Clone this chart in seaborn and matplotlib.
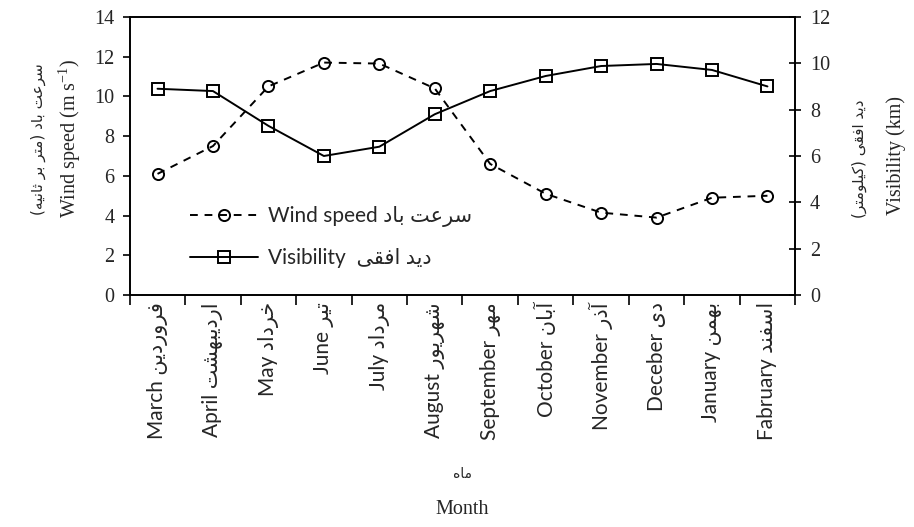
import numpy as np
import pandas as pd
import seaborn as sns
import matplotlib.pyplot as plt
from matplotlib.ticker import FixedLocator, NullFormatter

months_en = ['March', 'April', 'May', 'June', 'July', 'August', 'September',
             'October', 'November', 'Deceber', 'January', 'Fabruary']
months_fa = ['فروردین', 'اردیبهشت', 'خرداد', 'تیر', 'مرداد', 'شهریور', 'مهر',
             'آبان', 'آذر', 'دی', 'بهمن', 'اسفند']
wind_speed = [6.1, 7.5, 10.5, 11.7, 11.65, 10.4, 6.6, 5.1, 4.15, 3.9, 4.9, 5.0]
visibility = [8.9, 8.8, 7.3, 6.0, 6.4, 7.8, 8.8, 9.45, 9.88, 9.97, 9.71, 9.0]

# presentation forms: isolated, final, initial, medial
FORMS = {
    'ا': ('\uFE8D', '\uFE8E', None, None),
    'آ': ('\uFE81', '\uFE82', None, None),
    'ب': ('\uFE8F', '\uFE90', '\uFE91', '\uFE92'),
    'ت': ('\uFE95', '\uFE96', '\uFE97', '\uFE98'),
    'ث': ('\uFE99', '\uFE9A', '\uFE9B', '\uFE9C'),
    'خ': ('\uFEA5', '\uFEA6', '\uFEA7', '\uFEA8'),
    'د': ('\uFEA9', '\uFEAA', None, None),
    'ذ': ('\uFEAB', '\uFEAC', None, None),
    'ر': ('\uFEAD', '\uFEAE', None, None),
    'س': ('\uFEB1', '\uFEB2', '\uFEB3', '\uFEB4'),
    'ش': ('\uFEB5', '\uFEB6', '\uFEB7', '\uFEB8'),
    'ع': ('\uFEC9', '\uFECA', '\uFECB', '\uFECC'),
    'ف': ('\uFED1', '\uFED2', '\uFED3', '\uFED4'),
    'ق': ('\uFED5', '\uFED6', '\uFED7', '\uFED8'),
    'ك': ('\uFED9', '\uFEDA', '\uFEDB', '\uFEDC'),
    'ک': ('\uFB8E', '\uFB8F', '\uFB90', '\uFB91'),
    'ل': ('\uFEDD', '\uFEDE', '\uFEDF', '\uFEE0'),
    'م': ('\uFEE1', '\uFEE2', '\uFEE3', '\uFEE4'),
    'ن': ('\uFEE5', '\uFEE6', '\uFEE7', '\uFEE8'),
    'ه': ('\uFEE9', '\uFEEA', '\uFEEB', '\uFEEC'),
    'و': ('\uFEED', '\uFEEE', None, None),
    'ي': ('\uFEF1', '\uFEF2', '\uFEF3', '\uFEF4'),
    'ی': ('\uFBFC', '\uFBFD', '\uFBFE', '\uFBFF'),
}
MIRROR = {'(': ')', ')': '('}


def fa(text):
    # tiny reshaper: pick joined forms, then reverse to visual order
    out = []
    for i, ch in enumerate(text):
        if ch not in FORMS:
            out.append(MIRROR.get(ch, ch))
            continue
        prev = text[i - 1] if i > 0 else ''
        nxt = text[i + 1] if i + 1 < len(text) else ''
        join_prev = prev in FORMS and FORMS[prev][2] is not None
        join_next = FORMS[ch][2] is not None and nxt in FORMS
        iso, fin, ini, med = FORMS[ch]
        if join_prev and join_next:
            out.append(med)
        elif join_prev:
            out.append(fin)
        elif join_next:
            out.append(ini)
        else:
            out.append(iso)
    return ''.join(reversed(out))


sns.set_theme(style="ticks")
SANS = ['Lato', 'DejaVu Sans']
SERIF = ['Liberation Serif', 'DejaVu Sans']
plt.rcParams['font.family'] = SANS
plt.rcParams['mathtext.fontset'] = 'custom'
plt.rcParams['mathtext.rm'] = 'Liberation Serif'
plt.rcParams['mathtext.default'] = 'regular'

df = pd.DataFrame({'pos': np.arange(len(months_en)), 'wind': wind_speed, 'vis': visibility})

fig, ax = plt.subplots(figsize=(9.14, 5.27), dpi=100)
fig.subplots_adjust(left=0.142, right=0.870, top=0.968, bottom=0.440)
ax2 = ax.twinx()

sns.lineplot(data=df, x='pos', y='wind', ax=ax, color='black', linestyle='--',
             lw=1.4, marker='o', markersize=8, markerfacecolor='none',
             markeredgecolor='black', markeredgewidth=1.4)
sns.lineplot(data=df, x='pos', y='vis', ax=ax2, color='black', lw=1.4,
             marker='s', markersize=9, markerfacecolor='none',
             markeredgecolor='black', markeredgewidth=1.4)
wind_line = ax.lines[0]
vis_line = ax2.lines[0]
wind_line.set_dashes((4, 3.5))

ax.set_xlabel('')
ax.set_ylabel('')
ax2.set_ylabel('')

ax.set_xlim(-0.5, 11.5)
ax.xaxis.set_major_locator(FixedLocator(np.arange(-0.5, 12, 1)))
ax.xaxis.set_major_formatter(NullFormatter())
ax.set_xticks(np.arange(12), [e + ' ' + fa(p) for e, p in zip(months_en, months_fa)],
              minor=True, rotation=90, fontsize=15)
ax.tick_params(axis='x', which='major', direction='out', length=7, width=1.2, color='black')
ax.tick_params(axis='x', which='minor', length=0, pad=5)

ax.set_ylim(0, 14)
ax.set_yticks(np.arange(0, 15, 2))
ax.tick_params(axis='y', direction='out', length=5, width=1.2, color='black', pad=6)
for t in ax.get_yticklabels():
    t.set_fontfamily(SERIF)
    t.set_fontsize(14.5)

ax2.set_ylim(0, 12)
ax2.set_yticks(np.arange(0, 13, 2))
ax2.tick_params(axis='y', direction='inout', length=9, width=1.2, color='black', pad=6)
for t in ax2.get_yticklabels():
    t.set_fontfamily(SERIF)
    t.set_fontsize(14.5)

for a in (ax, ax2):
    for s in a.spines.values():
        s.set_color('black')
        s.set_linewidth(1.2)

ax.text(-0.09, 0.565, 'Wind speed (m s$^{-1}$)', transform=ax.transAxes, rotation=90,
        ha='center', va='center', family=SERIF, fontsize=14.5)
ax.text(-0.137, 0.56, fa('سرعت باد (متر بر ثانیه)'), transform=ax.transAxes, rotation=90,
        ha='center', va='center', family=['DejaVu Sans'], fontsize=11)
ax.text(1.152, 0.50, 'Visibility (km)', transform=ax.transAxes, rotation=90,
        ha='center', va='center', family=SERIF, fontsize=14.5)
ax.text(1.097, 0.49, fa('دید افقی (کیلومتر)'), transform=ax.transAxes, rotation=90,
        ha='center', va='center', family=['DejaVu Sans'], fontsize=11)

fig.text(462 / 914, 1 - 474 / 527, fa('ماه'), ha='center', va='center',
         family=['DejaVu Sans'], fontsize=10)
fig.text(462 / 914, 1 - 510 / 527, 'Month', ha='center', va='center',
         family=SERIF, fontsize=14.5)

for a in (ax, ax2):
    if a.get_legend() is not None:
        a.get_legend().remove()
ax2.legend([wind_line, vis_line],
           ['Wind speed ' + fa('سرعت باد'), 'Visibility  ' + fa('دید افقی')],
           loc='upper left', bbox_to_anchor=(0.09, 0.32), frameon=False,
           borderpad=0, borderaxespad=0, handlelength=3.3, handletextpad=0.45,
           labelspacing=1.0, prop={'family': SANS, 'size': 15})

fig.savefig('out.png', dpi=100)
